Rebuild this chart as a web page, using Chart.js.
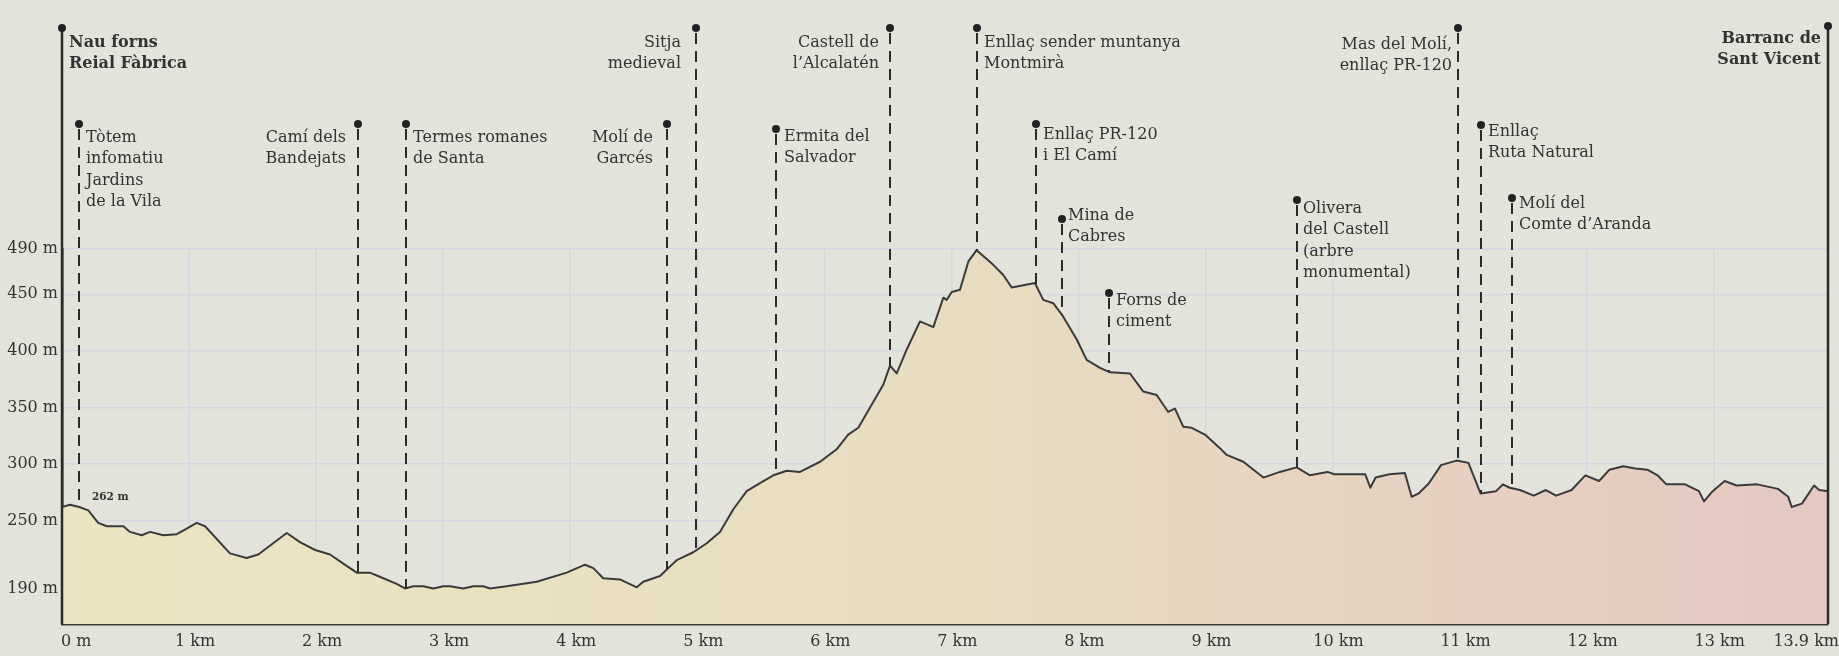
<!DOCTYPE html>
<html>
<head>
<meta charset="utf-8">
<title>Perfil d'elevació</title>
<style>
  html, body { margin: 0; padding: 0; background: #e3e3db; }
  #wrap { width: 1839px; height: 656px; }
</style>
</head>
<body>
<div id="wrap"><canvas id="chart" width="1839" height="656"></canvas></div>
<script src="https://cdn.jsdelivr.net/npm/chart.js@4.4.1/dist/chart.umd.min.js"></script>
<script>
// Distance along the route (km) and elevation (m)
const distKm = [0, 0.063, 0.136, 0.207, 0.285, 0.352, 0.483, 0.535, 0.627, 0.693,
  0.798, 0.903, 0.968, 1.060, 1.126, 1.322, 1.454, 1.545, 1.769, 1.873,
  1.992, 2.110, 2.214, 2.320, 2.424, 2.529, 2.634, 2.699, 2.765, 2.844,
  2.922, 3.002, 3.054, 3.158, 3.237, 3.316, 3.369, 3.500, 3.736, 3.973,
  4.116, 4.182, 4.260, 4.392, 4.524, 4.575, 4.707, 4.772, 4.838, 4.969,
  5.075, 5.179, 5.284, 5.389, 5.494, 5.599, 5.704, 5.809, 5.967, 6.097,
  6.188, 6.268, 6.386, 6.464, 6.517, 6.570, 6.648, 6.753, 6.858, 6.937,
  6.963, 7.003, 7.068, 7.134, 7.199, 7.330, 7.409, 7.475, 7.566, 7.658,
  7.723, 7.803, 7.876, 7.987, 8.065, 8.170, 8.249, 8.406, 8.511, 8.616,
  8.707, 8.760, 8.825, 8.892, 8.996, 9.114, 9.167, 9.298, 9.456, 9.586,
  9.718, 9.823, 9.961, 10.014, 10.257, 10.298, 10.339, 10.448, 10.570, 10.623,
  10.678, 10.759, 10.854, 10.976, 11.070, 11.165, 11.287, 11.341, 11.395, 11.476,
  11.584, 11.679, 11.760, 11.882, 11.990, 12.098, 12.180, 12.288, 12.383, 12.478,
  12.559, 12.627, 12.775, 12.884, 12.924, 12.992, 13.087, 13.181, 13.343, 13.506,
  13.587, 13.614, 13.695, 13.790, 13.831, 13.900];

const elevM = [262, 264, 262, 259, 248, 245, 245, 240, 237, 240,
  237, 238, 242, 248, 245, 221, 217, 220, 239, 231,
  224, 220, 212, 204, 204, 199, 194, 190, 192, 192,
  190, 192, 192, 190, 192, 192, 190, 192, 196, 204,
  211, 208, 199, 198, 191, 196, 201, 208, 215, 222,
  230, 240, 260, 276, 283, 290, 294, 293, 302, 313,
  326, 332, 355, 370, 387, 380, 401, 426, 421, 447,
  445, 452, 454, 479, 489, 476, 467, 456, 458, 460,
  445, 442, 431, 410, 392, 385, 381, 380, 364, 361,
  346, 349, 333, 332, 326, 314, 308, 302, 288, 293,
  297, 290, 293, 291, 291, 279, 288, 291, 292, 271,
  274, 283, 299, 303, 301, 274, 276, 282, 279, 277,
  272, 277, 272, 277, 290, 285, 295, 298, 296, 295,
  290, 282, 282, 276, 267, 276, 285, 281, 282, 278,
  271, 262, 265, 281, 277, 276];

// Axis ticks
const tickKm = [0, 1, 2, 3, 4, 5, 6, 7, 8, 9, 10, 11, 12, 13, 13.9];
const tickText = ['0 m', '1 km', '2 km', '3 km', '4 km', '5 km', '6 km', '7 km', '8 km', '9 km', '10 km', '11 km', '12 km', '13 km', '13.9 km'];
const elevTicks = [190, 250, 300, 350, 400, 450, 490];

// Points of interest
const markerKm = [0, 0.136, 2.327, 2.705, 4.762, 4.990, 5.622, 6.517, 7.199, 7.664, 7.873, 8.238, 9.718, 10.989, 11.170, 11.414, 13.9];
const markerName = [
  ['Nau forns', 'Reial Fàbrica'],
  ['Tòtem', 'infomatiu', 'Jardins', 'de la Vila'],
  ['Camí dels', 'Bandejats'],
  ['Termes romanes', 'de Santa'],
  ['Molí de', 'Garcés'],
  ['Sitja', 'medieval'],
  ['Ermita del', 'Salvador'],
  ['Castell de', 'l’Alcalatén'],
  ['Enllaç sender muntanya', 'Montmirà'],
  ['Enllaç PR-120', 'i El Camí'],
  ['Mina de', 'Cabres'],
  ['Forns de', 'ciment'],
  ['Olivera', 'del Castell', '(arbre', 'monumental)'],
  ['Mas del Molí,', 'enllaç PR-120'],
  ['Enllaç', 'Ruta Natural'],
  ['Molí del', 'Comte d’Aranda'],
  ['Barranc de', 'Sant Vicent']
];
const markerMain = [true, false, false, false, false, false, false, false, false, false, false, false, false, false, false, false, true];

// label placement: [dot y, first text line y, side, text x offset]
const markerLayout = [
  [28, 43, 'left', 7], [124, 138, 'left', 7], [124, 138, 'right', -12], [124, 138, 'left', 7],
  [124, 138, 'right', -14], [28, 43, 'right', -15], [129, 137, 'left', 8], [28, 43, 'right', -11],
  [28, 43, 'left', 7], [124, 135, 'left', 7], [219, 216, 'left', 6], [293, 301, 'left', 7],
  [200, 209, 'left', 6], [28, 45, 'right', -6], [125, 132, 'left', 7], [198, 204, 'left', 7],
  [26, 39, 'right', -7]
];

const ink = '#333333';
const serif = "'DejaVu Serif', 'Liberation Serif', serif";

function elevAt(km) {
  for (let i = 1; i < distKm.length; i++) {
    if (km <= distKm[i]) {
      const t = (km - distKm[i - 1]) / (distKm[i] - distKm[i - 1]);
      return elevM[i - 1] + t * (elevM[i] - elevM[i - 1]);
    }
  }
  return elevM[elevM.length - 1];
}

const markerPlugin = {
  id: 'markers',
  afterDraw(chart) {
    const { ctx, chartArea, scales: { x, y } } = chart;
    ctx.save();

    // x axis labels
    ctx.font = `16px ${serif}`;
    ctx.fillStyle = ink;
    ctx.textBaseline = 'middle';
    const ly = chartArea.bottom + 18;
    tickKm.forEach((v, i) => {
      const px = x.getPixelForValue(v);
      if (i === 0) { ctx.textAlign = 'left'; ctx.fillText(tickText[i], px - 1, ly); }
      else if (i === tickKm.length - 1) { ctx.textAlign = 'right'; ctx.fillText(tickText[i], px + 11, ly); }
      else { ctx.textAlign = 'center'; ctx.fillText(tickText[i], px + 6, ly); }
    });

    // start elevation
    ctx.font = `bold 10.5px ${serif}`;
    ctx.textAlign = 'left';
    ctx.fillText(elevM[0] + ' m', chartArea.left + 30, y.getPixelForValue(elevM[0]) - 10);

    // points of interest
    markerKm.forEach((km, i) => {
      const [dotY, textY, side, dx] = markerLayout[i];
      const px = Math.round(x.getPixelForValue(km));
      ctx.strokeStyle = '#2b2b2b';
      ctx.fillStyle = '#222';
      ctx.beginPath();
      if (markerMain[i]) {
        ctx.setLineDash([]);
        ctx.lineWidth = 2.5;
        ctx.moveTo(px, dotY);
        ctx.lineTo(px, chartArea.bottom);
      } else {
        ctx.setLineDash([11, 7]);
        ctx.lineWidth = 2;
        ctx.moveTo(px, dotY + 5);
        ctx.lineTo(px, y.getPixelForValue(elevAt(km)));
      }
      ctx.stroke();
      ctx.setLineDash([]);
      ctx.beginPath();
      ctx.arc(px, dotY, 4, 0, Math.PI * 2);
      ctx.fill();

      ctx.font = (markerMain[i] ? 'bold ' : '') + `16px ${serif}`;
      ctx.fillStyle = ink;
      ctx.textAlign = side;
      markerName[i].forEach((line, j) => {
        ctx.fillText(line, px + dx, textY + j * 21.3);
      });
    });
    ctx.restore();
  }
};

const ctx = document.getElementById('chart').getContext('2d');
new Chart(ctx, {
  type: 'line',
  data: {
    datasets: [{
      data: distKm.map((d, i) => ({ x: d, y: elevM[i] })),
      borderColor: '#3a3a3a',
      borderWidth: 2,
      borderJoinStyle: 'round',
      pointRadius: 0,
      tension: 0,
      fill: 'start',
      backgroundColor: (c) => {
        const a = c.chart.chartArea;
        if (!a) return '#e8dfc0';
        const g = c.chart.ctx.createLinearGradient(a.left, 0, a.right, 0);
        g.addColorStop(0, '#ebe5c2');
        g.addColorStop(0.5, '#e8dcc0');
        g.addColorStop(1, '#e4c8c1');
        return g;
      }
    }]
  },
  options: {
    responsive: false,
    animation: false,
    layout: { padding: { top: 249, right: 11, left: 0, bottom: 0 } },
    plugins: { legend: { display: false }, tooltip: { enabled: false } },
    scales: {
      x: {
        type: 'linear',
        min: 0,
        max: 13.9,
        z: 1,
        afterBuildTicks: (scale) => { scale.ticks = tickKm.map(v => ({ value: v })); },
        afterFit: (scale) => { scale.height = 32; },
        ticks: { display: false },
        grid: { color: '#d8d7e1', lineWidth: 1.5, drawTicks: false },
        border: { color: '#3a3a3a', width: 2.5 }
      },
      y: {
        min: 158.6,
        max: 490,
        z: 1,
        afterBuildTicks: (scale) => { scale.ticks = elevTicks.map(v => ({ value: v })); },
        afterFit: (scale) => { scale.width = 62; scale.paddingTop = 0; scale.paddingBottom = 0; },
        ticks: {
          autoSkip: false,
          padding: 4,
          color: ink,
          font: { family: serif, size: 16 },
          callback: (v) => v + ' m'
        },
        grid: { color: '#d8d7e1', lineWidth: 1.5, drawTicks: false },
        border: { color: '#2b2b2b', width: 2.5 }
      }
    }
  },
  plugins: [markerPlugin]
});
</script>
</body>
</html>
